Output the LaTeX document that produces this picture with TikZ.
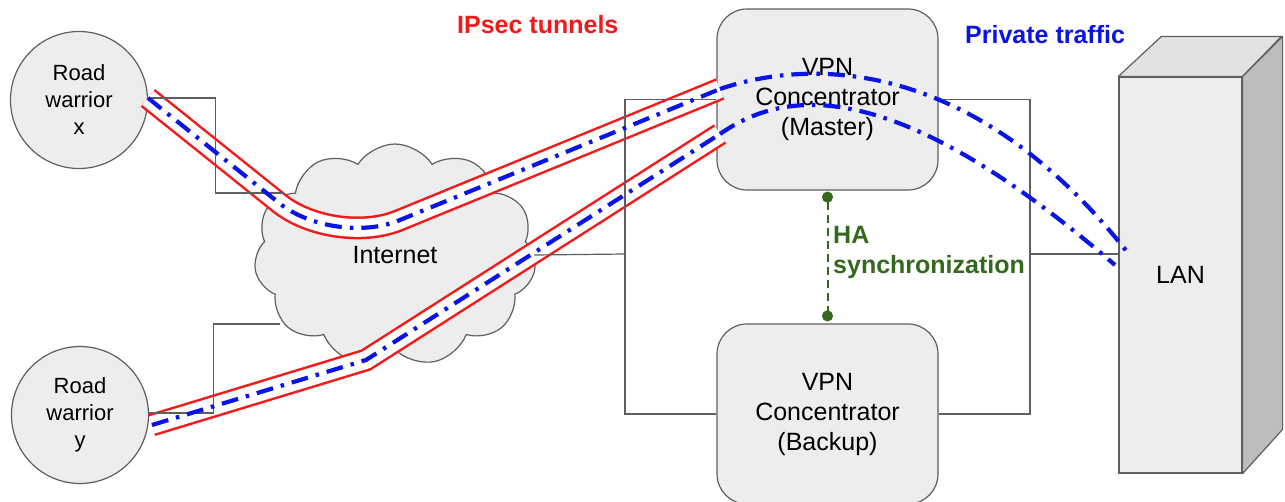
\documentclass[tikz,border=0pt]{standalone}
\usepackage{fontspec}
\setmainfont{Liberation Sans}
\usetikzlibrary{shapes.symbols,arrows.meta}
\definecolor{boxfill}{HTML}{EDEDED}
\definecolor{edge}{HTML}{5F5F5F}
\definecolor{lanside}{HTML}{BDBDBD}
\definecolor{lantop}{HTML}{E2E2E2}
\definecolor{tunred}{HTML}{F21A1A}
\definecolor{privblue}{HTML}{0A14E6}
\definecolor{hagreen}{HTML}{33691E}
\tikzset{
  conn/.style={draw=edge, line width=1.2pt},
  circnode/.style={circle, draw=edge, line width=1.2pt, fill=boxfill, minimum size=137pt, inner sep=0pt, align=center, font=\fontsize{22}{27}\selectfont},
  vpnbox/.style={rectangle, rounded corners=30pt, draw=edge, line width=1.2pt, fill=boxfill, minimum width=221pt, inner sep=0pt, align=center, font=\fontsize{25}{30}\selectfont},
  lanface/.style={rectangle, draw=edge, line width=1.2pt, fill=boxfill, minimum width=123pt, minimum height=396pt, inner sep=0pt, font=\fontsize{25}{30}\selectfont},
  tunnel/.style={draw=tunred, line width=2.5pt, double=white, double distance=17.8pt},
  privline/.style={draw=privblue, line width=4.2pt, dash pattern=on 17pt off 8pt on 3.5pt off 8pt},
  halink/.style={draw=hagreen, line width=2pt, dash pattern=on 8pt off 5pt, {Circle[length=11pt]}-{Circle[length=11pt]}},
  lbl/.style={inner sep=0pt, font=\fontsize{25}{30}\selectfont\bfseries}
}
\begin{document}
\begin{tikzpicture}[x=1pt, y=-1pt]
\useasboundingbox (0,0) rectangle (1285,501);
\fill[white] (0,0) rectangle (1285,501);

% nodes
\node[circnode] (rwx) at (79,100) {Road\\warrior\\x};
\node[circnode] (rwy) at (80,415) {Road\\warrior\\y};
\node[cloud, cloud puffs=11, cloud puff arc=115, aspect=1.3, draw=edge, line width=1.2pt, fill=boxfill,
      minimum width=282pt, minimum height=222pt, inner sep=0pt, font=\fontsize{25}{30}\selectfont] (inet) at (395,255) {Internet};
\node[vpnbox, minimum height=181pt] (master) at (827.5,99.5) {VPN\\Concentrator\\(Master)};
\node[vpnbox, minimum height=180pt] (backup) at (827.5,414) {VPN\\Concentrator\\(Backup)};
\node[lanface] (lan) at (1180.5,275) {LAN};
\draw[draw=edge, line width=1.2pt, fill=lantop, line join=round] (lan.north west) -- ++(43,-40) -- ++(120,0) -- (lan.north east) -- cycle;
\draw[draw=edge, line width=1.2pt, fill=lanside, line join=round] (lan.north east) -- ++(40,-40) -- ++(0,393) -- (lan.south east) -- cycle;

% coordinates
\coordinate (inx) at (283,193);
\coordinate (iny) at (280,324);
\coordinate (lb) at (625,254);
\coordinate (rb) at (1030,254);

% tunnels (red with white core)
\draw[tunnel, rounded corners=70pt] (148,98) -- (334,247) -- (720,89);
\draw[tunnel] (152,425) -- (366,360) -- (720,134);

% gray connectors
\draw[conn] (rwx.east |- 0,98) -- ++(67,0) |- (inx);
\draw[conn] (rwy.east |- 0,413) -- ++(64,0) |- (iny);
\draw[conn] (inet.east) -- (lb);
\draw[conn] (master.west) -| (lb);
\draw[conn] (backup.west) -| (lb);
\draw[conn] (master.east) -| (rb);
\draw[conn] (backup.east) -| (rb);
\draw[conn] (rb) -- (rb -| lan.west);

% blue private traffic
\draw[privline, rounded corners=70pt] (148,98) -- (334,247) -- (720,89);
\draw[privline] (152,425) -- (366,360) -- (720,134);
\draw[privline] (720,89) .. controls (820,55) and (980,65) .. (1128,253);
\draw[privline] (720,134) .. controls (790,85) and (900,80) .. (1115,265);

% HA synchronization
\draw[halink] ([yshift=-1pt]master.south) -- ([yshift=2pt]backup.north);
\node[lbl, text=hagreen, anchor=north west, align=left] (hatext) at (833,226) {HA\\synchronization};

% labels
\node[lbl, text=tunred, anchor=base west] (ipsec) at (457,33) {IPsec tunnels};
\node[lbl, text=privblue, anchor=base west] (privtxt) at (965,43) {Private traffic};
\end{tikzpicture}
\end{document}
